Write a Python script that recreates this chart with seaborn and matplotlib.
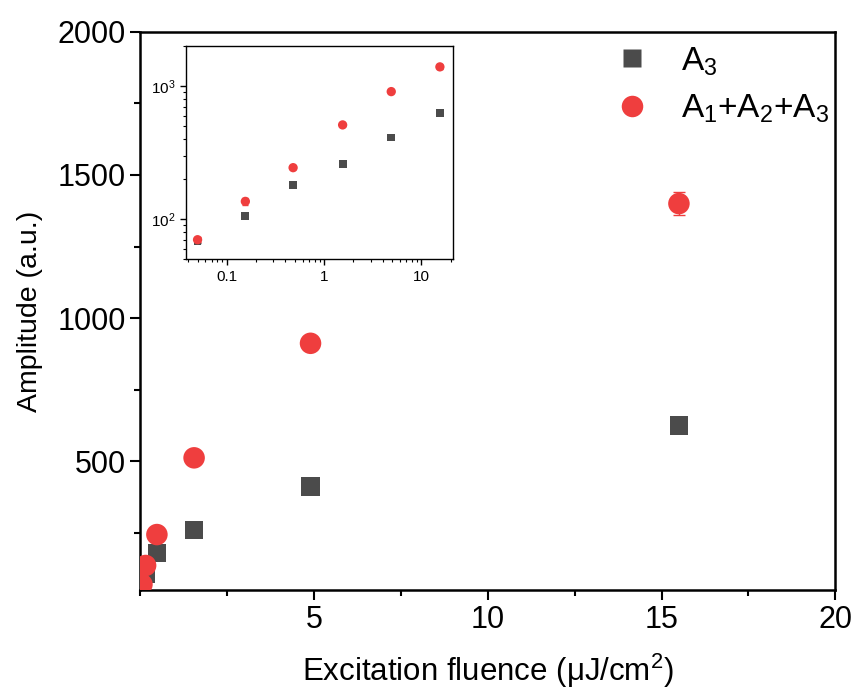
import numpy as np
import pandas as pd
import seaborn as sns
import matplotlib.pyplot as plt
from matplotlib.ticker import MultipleLocator, LogLocator, NullFormatter

fluence = [0.05, 0.155, 0.48, 1.55, 4.9, 15.5]
a3 = [68, 105, 181, 259, 412, 625]
a3_err = [2, 3, 3, 3, 5, 6]
a_sum = [70, 136, 244, 512, 912, 1400]
a_sum_err = [3, 9, 5, 6, 8, 40]

gray = '#4b4b4b'
red = '#ef3e3e'
lab3 = 'A$_3$'
labsum = 'A$_1$+A$_2$+A$_3$'

sns.set_style('ticks')
plt.rcParams['font.family'] = ['Liberation Sans', 'DejaVu Sans']
plt.rcParams['mathtext.fontset'] = 'custom'
plt.rcParams['mathtext.rm'] = 'Liberation Sans'
plt.rcParams['mathtext.it'] = 'Liberation Sans'
plt.rcParams['text.color'] = 'black'
plt.rcParams['axes.labelcolor'] = 'black'
plt.rcParams['xtick.color'] = 'black'
plt.rcParams['ytick.color'] = 'black'
plt.rcParams['axes.edgecolor'] = 'black'

df = pd.DataFrame({'fluence': fluence * 2,
                   'amp': a3 + a_sum,
                   'series': [lab3] * 6 + [labsum] * 6})

fig = plt.figure(figsize=(8.55, 6.91), dpi=100)
ax = fig.add_axes([0.164, 0.146, 0.813, 0.808])

ax.errorbar(fluence, a3, yerr=a3_err, fmt='none', ecolor=gray, capsize=4, lw=1)
ax.errorbar(fluence, a_sum, yerr=a_sum_err, fmt='none', ecolor=red, capsize=4, lw=1)
sns.scatterplot(data=df, x='fluence', y='amp', hue='series', style='series',
                size='series', sizes={lab3: 170, labsum: 240},
                palette=[gray, red], markers=['s', 'o'], ax=ax,
                edgecolor='none', zorder=3)

ax.set_xlim(0, 20)
ax.set_ylim(50, 2000)
ax.xaxis.set_major_locator(MultipleLocator(5))
ax.xaxis.set_minor_locator(MultipleLocator(2.5))
ax.yaxis.set_major_locator(MultipleLocator(500))
ax.yaxis.set_minor_locator(MultipleLocator(250))
ax.set_xticks([5, 10, 15, 20])
ax.tick_params(which='major', length=7, width=1.5, labelsize=22, direction='out')
ax.tick_params(which='minor', length=4, width=1.5, direction='out')
for s in ax.spines.values():
    s.set_linewidth(1.8)
ax.set_xlabel('Excitation fluence ($\\mu$J/cm$^2$)', fontsize=22.5, labelpad=12)
ax.set_ylabel('Amplitude (a.u.)', fontsize=20.5, labelpad=10)

handles, labels = ax.get_legend_handles_labels()
ax.legend(handles, labels, loc='upper left', frameon=False, fontsize=24,
          handlelength=1.0, handletextpad=0.95, labelspacing=0.45,
          borderaxespad=0, bbox_to_anchor=(0.665, 1.0))

# inset: log-log view
ins = fig.add_axes([0.2175, 0.625, 0.312, 0.308])
ins.errorbar(fluence, a3, yerr=a3_err, fmt='none', ecolor=gray, capsize=2, lw=0.8)
ins.errorbar(fluence, a_sum, yerr=a_sum_err, fmt='none', ecolor=red, capsize=2, lw=0.8)
sns.scatterplot(x=fluence, y=a3, marker='s', color=gray, s=32, edgecolor='none',
                ax=ins, zorder=3)
sns.scatterplot(x=fluence, y=a_sum, marker='o', color=red, s=45, edgecolor='none',
                ax=ins, zorder=3)
ins.set_xscale('log')
ins.set_yscale('log')
ins.set_xlim(0.038, 21)
ins.set_ylim(50, 2000)
ins.set_xticks([0.1, 1, 10])
ins.set_xticklabels(['0.1', '1', '10'])
ins.yaxis.set_major_locator(LogLocator(base=10))
ins.yaxis.set_minor_formatter(NullFormatter())
ins.xaxis.set_minor_formatter(NullFormatter())
ins.tick_params(which='major', length=4, width=1, labelsize=11, direction='out')
ins.tick_params(which='minor', length=2, width=0.8, direction='out')
for s in ins.spines.values():
    s.set_linewidth(1.0)

fig.savefig('out.png', dpi=100)
